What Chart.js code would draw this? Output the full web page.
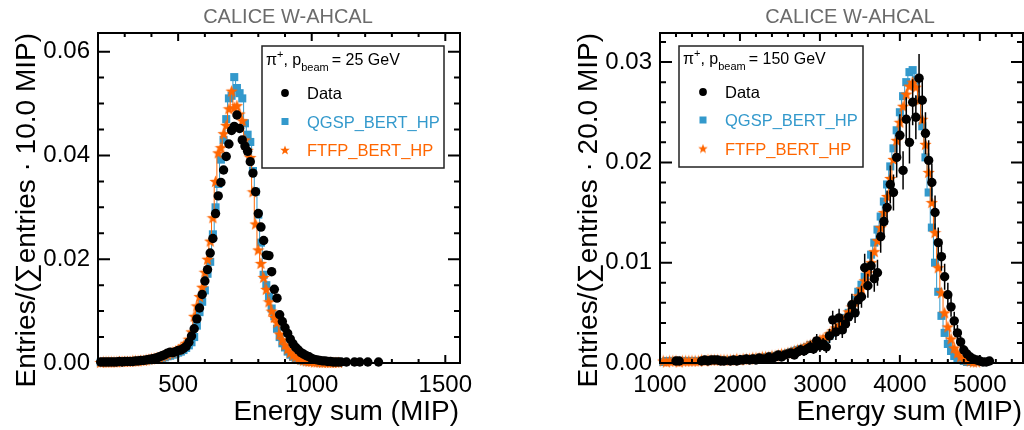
<!DOCTYPE html>
<html>
<head>
<meta charset="utf-8">
<script src="https://cdn.jsdelivr.net/npm/chart.js@4.4.0/dist/chart.umd.min.js"></script>
<style>
  html, body { margin: 0; padding: 0; background: #fff; }
  #wrap { display: flex; width: 1024px; height: 430px; }
  canvas { display: block; }
</style>
</head>
<body>
<div id="wrap">
  <canvas id="left" width="512" height="430"></canvas>
  <canvas id="right" width="512" height="430"></canvas>
</div>
<script>
// ---- 25 GeV panel: 10 MIP bins, first bin centre 210 ----
const leftBinStart = 210;
const leftBinWidth = 10;
const leftData = [
  0.0002,0.0002,0.0002,0.0002,0.0002,0.0002,0.0002,0.0003,0.0002,0.0003,
  0.0003,0.0003,0.0003,0.0004,0.0004,0.0005,0.0005,0.0006,0.0007,0.0008,
  0.0009,0.0010,0.0012,0.0014,0.0016,0.0019,0.0021,0.0020,0.0022,0.0024,
  0.0025,0.0028,0.0032,0.0040,0.0052,0.0066,0.0085,0.0106,0.0132,0.0158,
  0.0180,0.0212,0.0240,0.0288,0.0322,0.0348,0.0372,0.0398,0.0422,0.0448,
  0.0456,0.0478,0.0452,0.0430,0.0418,0.0408,0.0388,0.0366,0.0330,0.0288,
  0.0262,0.0236,0.0208,0.0207,0.0176,0.0142,0.0125,0.0093,0.0080,0.0068,
  0.0057,0.0046,0.0037,0.0030,0.0025,0.0020,0.0017,0.0014,0.0012,0.0009,
  0.0007,0.0006,0.0005,0.0004,0.0004,0.0003,0.0003,0.0002,0.0002,0.0002,
  0.0002,null,0.0002,null,null,0.0002,null,0.0002,null,null,
  0.0002,null,null,null,0.0002
];
const leftQgsp = [
  0.0001,0.0001,0.0001,0.0002,0.0002,0.0002,0.0002,0.0002,0.0002,0.0002,
  0.0002,0.0003,0.0003,0.0003,0.0003,0.0004,0.0004,0.0005,0.0005,0.0006,
  0.0007,0.0008,0.0009,0.0010,0.0011,0.0013,0.0014,0.0016,0.0018,0.0020,
  0.0022,0.0025,0.0029,0.0034,0.0040,0.0050,0.0072,0.0098,0.0118,0.0140,
  0.0172,0.0195,0.0248,0.0300,0.0345,0.0392,0.0430,0.0470,0.0510,0.0515,
  0.0551,0.0530,0.0520,0.0510,0.0462,0.0440,0.0426,0.0370,0.0330,0.0286,
  0.0232,0.0170,0.0150,0.0128,0.0105,0.0090,0.0066,0.0050,0.0038,0.0030,
  0.0022,0.0016,0.0012,0.0009,0.0007,0.0005,0.0004,0.0003,0.0003,0.0002,
  0.0002,0.0002,0.0001,0.0001,0.0001,0.0001,0.0001,0.0001,0.0001,0,
  0,0,0,0,0,0,0,0,0,0,
  0,0,0,0,0,0,0,0,0,0,
  0,0,0,0,0,0,0,0,0,0,
  0,0,0,0,0,0,0,0,0,0,
  0,0,0,0,0
];
const leftFtfp = [
  0.0001,0.0002,0.0002,0.0002,0.0002,0.0002,0.0002,0.0003,0.0003,0.0003,
  0.0003,0.0003,0.0004,0.0004,0.0004,0.0005,0.0005,0.0006,0.0007,0.0008,
  0.0009,0.0010,0.0011,0.0013,0.0015,0.0017,0.0019,0.0021,0.0023,0.0026,
  0.0029,0.0033,0.0038,0.0046,0.0060,0.0090,0.0110,0.0128,0.0146,0.0175,
  0.0200,0.0235,0.0280,0.0350,0.0405,0.0415,0.0442,0.0458,0.0490,0.0524,
  0.0492,0.0496,0.0480,0.0467,0.0430,0.0410,0.0396,0.0330,0.0268,0.0218,
  0.0192,0.0165,0.0142,0.0118,0.0100,0.0088,0.0078,0.0056,0.0045,0.0035,
  0.0027,0.0020,0.0015,0.0012,0.0009,0.0007,0.0005,0.0004,0.0003,0.0003,
  0.0002,0.0002,0.0002,0.0001,0.0001,0.0001,0.0001,0.0001,0.0001,0.0001,
  0,0,0,0,0,0,0,0,0,0,
  0,0,0,0,0,0,0,0,0,0,
  0,0,0,0,0,0,0,0,0,0,
  0,0,0,0,0,0,0,0,0,0,
  0,0,0,0,0
];
const leftXTicks = [500, 1000, 1500];
const leftYTicks = [0, 0.02, 0.04, 0.06];

// ---- 150 GeV panel: every second 20 MIP bin, first centre 1040 ----
const rightBinStart = 1040;
const rightBinWidth = 40;
const rightData = [
  null,null,null,null,0.0002,0.0002,null,null,null,null,
  null,null,0.0002,0.0003,0.0002,0.0003,0.0003,0.0003,0.0002,0.0002,
  null,0.0002,0.0003,0.0002,0.0003,0.0003,0.0004,0.0003,0.0004,0.0003,
  0.0005,0.0004,0.0004,0.0006,0.0004,0.0006,0.0008,0.0006,0.0008,0.0009,
  0.0010,0.0008,0.0011,0.0013,0.0012,0.0014,0.0016,0.0014,0.0022,0.0017,
  0.0019,0.0016,0.0027,0.0043,0.0031,0.0045,0.0033,0.0039,0.0046,0.0058,
  0.0050,0.0063,0.0066,0.0095,0.0077,0.0097,0.0084,0.0090,0.0126,0.0141,
  0.0155,0.0178,0.0170,0.0205,0.0227,0.0192,0.0243,0.0220,0.0260,0.0245,
  0.0284,0.0262,0.0229,0.0202,0.0180,0.0150,0.0120,0.0106,0.0086,0.0068,
  0.0056,0.0042,0.0030,0.0021,0.0013,0.0009,0.0006,0.0004,0.0003,0.0002,
  0.0001,0.0001,0.0002,null,null
];
const rightDataErr = [
  null,null,null,null,0.0002,0.0002,null,null,null,null,
  null,null,0.0002,0.0002,0.0002,0.0002,0.0002,0.0002,0.0002,0.0002,
  null,0.0002,0.0002,0.0002,0.0002,0.0002,0.0003,0.0002,0.0003,0.0002,
  0.0003,0.0003,0.0003,0.0003,0.0003,0.0003,0.0004,0.0003,0.0004,0.0004,
  0.0004,0.0004,0.0005,0.0005,0.0005,0.0005,0.0006,0.0005,0.0007,0.0006,
  0.0006,0.0006,0.0007,0.0009,0.0008,0.0009,0.0008,0.0009,0.0009,0.0011,
  0.0010,0.0011,0.0011,0.0014,0.0012,0.0014,0.0013,0.0013,0.0016,0.0017,
  0.0017,0.0019,0.0018,0.0020,0.0021,0.0019,0.0022,0.0021,0.0023,0.0022,
  0.0024,0.0023,0.0021,0.0020,0.0019,0.0017,0.0015,0.0014,0.0013,0.0012,
  0.0010,0.0009,0.0008,0.0006,0.0005,0.0004,0.0003,0.0003,0.0002,0.0002,
  0.0001,0.0001,0.0002,null,null
];
const rightQgsp = [
  0.0001,0.0002,0.0002,0.0002,0.0002,0.0002,0.0002,0.0002,0.0002,0.0002,
  0.0002,0.0002,0.0002,0.0002,0.0003,0.0003,0.0003,0.0003,0.0003,0.0003,
  0.0003,0.0003,0.0003,0.0003,0.0003,0.0004,0.0004,0.0004,0.0004,0.0005,
  0.0005,0.0005,0.0006,0.0006,0.0007,0.0007,0.0008,0.0008,0.0009,0.0010,
  0.0011,0.0012,0.0013,0.0014,0.0015,0.0016,0.0018,0.0019,0.0020,0.0021,
  0.0022,0.0024,0.0027,0.0030,0.0033,0.0037,0.0041,0.0045,0.0050,0.0056,
  0.0063,0.0071,0.0078,0.0086,0.0096,0.0108,0.0120,0.0133,0.0146,0.0161,
  0.0178,0.0196,0.0214,0.0232,0.0250,0.0266,0.0280,0.0290,0.0292,0.0282,
  0.0262,0.0236,0.0205,0.0170,0.0135,0.0100,0.0071,0.0047,0.0030,0.0019,
  0.0012,0.0007,0.0004,0.0003,0.0002,0.0001,0.0001,0.0001,0,0,
  0,0,0,0,0
];
const rightFtfp = [
  0.0002,0.0001,0.0002,0.0002,0.0002,0.0001,0.0002,0.0002,0.0002,0.0002,
  0.0002,0.0002,0.0003,0.0002,0.0003,0.0003,0.0003,0.0003,0.0003,0.0003,
  0.0003,0.0003,0.0003,0.0004,0.0003,0.0004,0.0004,0.0004,0.0005,0.0005,
  0.0005,0.0006,0.0006,0.0006,0.0007,0.0007,0.0008,0.0009,0.0009,0.0010,
  0.0011,0.0012,0.0013,0.0014,0.0015,0.0017,0.0018,0.0020,0.0021,0.0023,
  0.0024,0.0026,0.0029,0.0032,0.0035,0.0038,0.0042,0.0046,0.0051,0.0056,
  0.0061,0.0067,0.0074,0.0082,0.0090,0.0100,0.0111,0.0122,0.0135,0.0150,
  0.0166,0.0184,0.0203,0.0222,0.0240,0.0256,0.0268,0.0276,0.0280,0.0275,
  0.0262,0.0243,0.0218,0.0190,0.0160,0.0130,0.0095,0.0070,0.0050,0.0036,
  0.0024,0.0015,0.0010,0.0006,0.0004,0.0003,0.0002,0.0001,0.0001,0,
  0,0,0,0,0
];
const rightXTicks = [1000, 2000, 3000, 4000, 5000];
const rightYTicks = [0, 0.01, 0.02, 0.03];

const FONT = '"Liberation Sans", Arial, Helvetica, sans-serif';
const BLUE = '#3399cc';
const ORANGE = '#ff6600';

function binPoints(start, width, values) {
  return values.map((v, i) => ({ x: start + i * width, y: v }));
}

// filled five-point star, used as point style
function starCanvas(color, size) {
  const c = document.createElement('canvas');
  c.width = c.height = size;
  const g = c.getContext('2d');
  const R = size / 2, r = R * 0.42, cx = size / 2, cy = size / 2 + R * 0.08;
  g.beginPath();
  for (let i = 0; i < 10; i++) {
    const a = -Math.PI / 2 + i * Math.PI / 5;
    const rad = i % 2 ? r : R;
    g.lineTo(cx + rad * Math.cos(a), cy + rad * Math.sin(a));
  }
  g.closePath();
  g.fillStyle = color;
  g.fill();
  return c;
}
const STAR = starCanvas(ORANGE, 13);
const STAR_SMALL = starCanvas(ORANGE, 10);

function tickMarks(ctx, scale, minor, major, horiz, a, lMaj, lMin) {
  const n0 = Math.ceil(scale.min / minor - 1e-6);
  const n1 = Math.floor(scale.max / minor + 1e-6);
  ctx.beginPath();
  for (let n = n0; n <= n1; n++) {
    const v = n * minor;
    const r = v / major;
    const len = Math.abs(r - Math.round(r)) < 1e-6 ? lMaj : lMin;
    const p = scale.getPixelForValue(v);
    if (horiz) {
      ctx.moveTo(p, a.bottom); ctx.lineTo(p, a.bottom - len);
      ctx.moveTo(p, a.top); ctx.lineTo(p, a.top + len);
    } else {
      ctx.moveTo(a.left, p); ctx.lineTo(a.left + len, p);
      ctx.moveTo(a.right, p); ctx.lineTo(a.right - len, p);
    }
  }
  ctx.stroke();
}

function drawLegend(ctx, L) {
  ctx.save();
  ctx.fillStyle = '#fff';
  ctx.fillRect(L.x0, L.y0, L.x1 - L.x0, L.y1 - L.y0);
  ctx.strokeStyle = '#222';
  ctx.lineWidth = 1.5;
  ctx.strokeRect(L.x0, L.y0, L.x1 - L.x0, L.y1 - L.y0);

  // header: pi+, p_beam = E GeV
  const big = '16px ' + FONT, small = '11px ' + FONT;
  let x = L.hx;
  ctx.fillStyle = '#000';
  ctx.textAlign = 'left';
  ctx.textBaseline = 'alphabetic';
  ctx.font = big; ctx.fillText('π', x, L.hy); x += ctx.measureText('π').width;
  ctx.font = small; ctx.fillText('+', x, L.hy - 7); x += ctx.measureText('+').width;
  ctx.font = big; ctx.fillText(', p', x, L.hy); x += ctx.measureText(', p').width;
  ctx.font = small; ctx.fillText('beam', x, L.hy + 6); x += ctx.measureText('beam').width + 3;
  ctx.font = big; ctx.fillText('= ' + L.energy + ' GeV', x, L.hy);

  // entries
  ctx.font = '16.5px ' + FONT;
  const rows = [
    { text: 'Data', color: '#000' },
    { text: 'QGSP_BERT_HP', color: BLUE },
    { text: 'FTFP_BERT_HP', color: ORANGE }
  ];
  rows.forEach((row, i) => {
    const y = L.rows[i];
    ctx.fillStyle = row.color;
    if (i === 0) {
      ctx.beginPath(); ctx.arc(L.mx, y, 3.9, 0, Math.PI * 2); ctx.fill();
    } else if (i === 1) {
      ctx.fillRect(L.mx - 3.5, y - 3.5, 7, 7);
    } else {
      ctx.drawImage(STAR_SMALL, L.mx - 5, y - 5);
    }
    ctx.fillText(row.text, L.tx, y + 6);
  });
  ctx.restore();
}

const rootFrame = {
  id: 'rootFrame',
  afterDatasetsDraw(chart, args, o) {
    if (!o.err) return;
    const { ctx, scales: { x, y } } = chart;
    ctx.save();
    ctx.strokeStyle = '#000';
    ctx.lineWidth = 1.5;
    ctx.beginPath();
    o.err.forEach((e, i) => {
      const v = o.errVals[i];
      if (v == null || e == null) return;
      const px = x.getPixelForValue(o.errStart + i * o.errWidth);
      ctx.moveTo(px, y.getPixelForValue(Math.max(0, v - e)));
      ctx.lineTo(px, y.getPixelForValue(v + e));
    });
    ctx.stroke();
    ctx.restore();
  },
  afterDraw(chart, args, o) {
    const { ctx, chartArea: a, scales: { x, y } } = chart;
    ctx.save();
    ctx.strokeStyle = '#000';
    ctx.lineWidth = 2;
    tickMarks(ctx, x, o.xMinor, o.xMajor, true, a, 8, 4);
    tickMarks(ctx, y, o.yMinor, o.yMajor, false, a, 12, 6);
    ctx.strokeRect(a.left, a.top, a.right - a.left, a.bottom - a.top);

    ctx.fillStyle = '#6b6b6b';
    ctx.font = '20px ' + FONT;
    ctx.textAlign = 'center';
    ctx.textBaseline = 'alphabetic';
    ctx.fillText('CALICE W-AHCAL', o.titleX, 23);

    ctx.fillStyle = '#000';
    ctx.font = '28px ' + FONT;
    ctx.textAlign = 'right';
    ctx.fillText('Energy sum (MIP)', a.right - 1, 420);
    ctx.save();
    ctx.translate(o.yTitleX, a.top);
    ctx.rotate(-Math.PI / 2);
    ctx.fillText(o.yTitle, 0, 0);
    ctx.restore();

    drawLegend(ctx, o.legend);
    ctx.restore();
  }
};

function makePanel(id, p) {
  const hideZero = c => (c.raw && c.raw.y > 0 ? 5.7 : 0);
  const tickFont = { family: FONT, size: 24 };
  new Chart(document.getElementById(id), {
    type: 'line',
    data: {
      datasets: [
        {
          label: 'Data',
          data: binPoints(p.start, p.width, p.data),
          showLine: false,
          pointStyle: 'circle',
          pointRadius: 4.7,
          pointBackgroundColor: '#000',
          pointBorderWidth: 0,
          clip: false,
          order: 0
        },
        {
          label: 'FTFP_BERT_HP',
          data: binPoints(p.mcStart, p.width, p.ftfp),
          stepped: 'middle',
          borderColor: ORANGE,
          borderWidth: 1,
          pointStyle: STAR,
          pointRadius: hideZero,
          clip: false,
          order: 1
        },
        {
          label: 'QGSP_BERT_HP',
          data: binPoints(p.mcStart, p.width, p.qgsp),
          stepped: 'middle',
          borderColor: BLUE,
          borderWidth: 1,
          pointStyle: 'rect',
          pointRadius: hideZero,
          pointBackgroundColor: BLUE,
          pointBorderWidth: 0,
          clip: false,
          order: 2
        }
      ]
    },
    options: {
      responsive: false,
      animation: false,
      events: [],
      layout: { padding: { left: 0, right: p.padRight, top: 33, bottom: 0 }, autoPadding: false },
      scales: {
        x: {
          type: 'linear', min: p.xMin, max: p.xMax,
          afterFit: s => { s.height = 67; },
          afterBuildTicks: s => { s.ticks = p.xTicks.map(v => ({ value: v })); },
          ticks: { padding: 8, font: tickFont, color: '#000', maxRotation: 0, autoSkip: false,
                   callback: v => String(v) },
          grid: { display: false, drawTicks: false },
          border: { display: false }
        },
        y: {
          type: 'linear', min: 0, max: p.yMax,
          afterFit: s => { s.width = p.yWidth; },
          afterBuildTicks: s => { s.ticks = p.yTicks.map(v => ({ value: v })); },
          ticks: { padding: 8, font: tickFont, color: '#000', autoSkip: false,
                   callback: v => v.toFixed(2) },
          grid: { display: false, drawTicks: false },
          border: { display: false }
        }
      },
      plugins: {
        legend: { display: false },
        tooltip: { enabled: false },
        rootFrame: p.frame
      }
    },
    plugins: [rootFrame]
  });
}

makePanel('left', {
  start: leftBinStart, mcStart: leftBinStart, width: leftBinWidth,
  data: leftData, qgsp: leftQgsp, ftfp: leftFtfp,
  xMin: 200, xMax: 1555, yMax: 0.0636, xTicks: leftXTicks, yTicks: leftYTicks,
  yWidth: 98, padRight: 52,
  frame: {
    xMinor: 100, xMajor: 500, yMinor: 0.005, yMajor: 0.02,
    titleX: 288, yTitleX: 35, yTitle: 'Entries/(∑entries · 10.0 MIP)',
    legend: { x0: 262, y0: 46, x1: 444, y1: 168, hx: 266, hy: 65, energy: '25',
              mx: 285, tx: 307, rows: [93, 121.5, 150] }
  }
});

makePanel('right', {
  start: rightBinStart, mcStart: rightBinStart, width: rightBinWidth,
  data: rightData, qgsp: rightQgsp, ftfp: rightFtfp,
  xMin: 1000, xMax: 5540, yMax: 0.0329, xTicks: rightXTicks, yTicks: rightYTicks,
  yWidth: 148, padRight: 1,
  frame: {
    xMinor: 200, xMajor: 1000, yMinor: 0.002, yMajor: 0.01,
    err: rightDataErr, errVals: rightData, errStart: rightBinStart, errWidth: rightBinWidth,
    titleX: 338, yTitleX: 85, yTitle: 'Entries/(∑entries · 20.0 MIP)',
    legend: { x0: 167, y0: 46, x1: 351, y1: 167, hx: 171, hy: 64, energy: '150',
              mx: 191, tx: 213, rows: [92, 120, 148.5] }
  }
});
</script>
</body>
</html>
